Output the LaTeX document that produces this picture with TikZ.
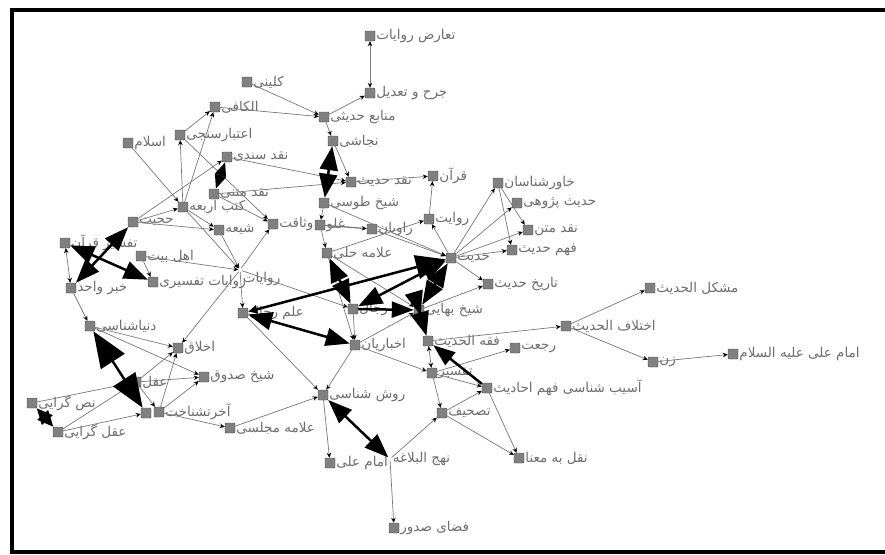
\documentclass[tikz,border=0pt]{standalone}
\usepackage{fontspec}
\newfontfamily\farsifont[Script=Arabic]{DejaVu Sans}
\TeXXeTstate=1
\usetikzlibrary{arrows.meta,positioning}
\definecolor{nodegray}{RGB}{128,128,128}
\definecolor{edgegray}{RGB}{120,120,120}
\definecolor{textgray}{RGB}{110,110,110}
\tikzstyle{concept} = [draw=black!70, fill=nodegray, minimum size=10pt, inner sep=0pt, rounded corners=1pt]
\tikzstyle{hiddenconcept} = [inner sep=0pt, minimum size=3pt]
\tikzstyle{lbl} = [text=textgray, font=\fontsize{13.5}{15}\farsifont, inner sep=1pt]
\tikzstyle{link} = [draw=edgegray, line width=0.7pt, -{Stealth[length=5pt,width=4.5pt,color=black]}]
\tikzstyle{both} = [link, {Stealth[length=5pt,width=4.5pt,color=black]}-{Stealth[length=5pt,width=4.5pt,color=black]}]
\tikzstyle{heavy} = [line width=2.5pt, black, {Triangle[length=24pt,width=18pt]}-{Triangle[length=24pt,width=18pt]}]
\tikzstyle{heavyone} = [line width=2.5pt, black, -{Triangle[length=22pt,width=16pt]}]

\begin{document}
\begin{tikzpicture}[x=1pt, y=-1pt]
\useasboundingbox (0,0) rectangle (885,554);
\fill[white] (0,0) rectangle (885,554);
\draw[line width=4pt] (11.5,10) rectangle (900,552);

% Hadith sources (top)
\node[concept, label={[lbl]0:\beginR تعارض روایات\endR}] (taarod) at (370,36) {};
\node[concept, label={[lbl]0:\beginR جرح و تعدیل\endR}] (jarh) at (370,93) {};
\node[concept, label={[lbl]0:\beginR منابع حدیثی\endR}] (manabe) at (324,117) {};
\node[concept, label={[lbl]0:\beginR نجاشی\endR}] (najashi) at (333,141) {};
\node[concept, label={[lbl]0:\beginR نقد حدیث\endR}] (naqdhadith) at (351,182) {};
\node[concept, label={[lbl]0:\beginR قرآن\endR}] (quran) at (433,176) {};
\node[concept, label={[lbl]0:\beginR شیخ طوسی\endR}] (tusi) at (324,203) {};
\node[concept, label={[lbl]0:\beginR غلو\endR}] (ghuluw) at (320,225) {};
\node[concept, label={[lbl]0:\beginR وثاقت\endR}] (vesaqat) at (273,224) {};
\node[concept, label={[lbl]0:\beginR راویان\endR}] (raviyan) at (372,229) {};
\node[concept, label={[lbl]0:\beginR روایت\endR}] (revayat) at (429,219) {};
\node[concept, label={[lbl]0:\beginR علامه حلی\endR}] (helli) at (327,253) {};
\node[concept, label={[lbl]0:\beginR کلینی\endR}] (kolayni) at (247,82) {};
\node[concept, label={[lbl]0:\beginR الکافی\endR}] (kafi) at (215,107) {};
\node[concept, label={[lbl]0:\beginR اعتبارسنجی\endR}] (etebar) at (180,135) {};
\node[concept, label={[lbl]0:\beginR اسلام\endR}] (eslam) at (128,143) {};
\node[concept, label={[lbl]0:\beginR نقد سندی\endR}] (naqdsanadi) at (227,157) {};
\node[concept, label={[lbl]0:\beginR نقد متنی\endR}] (naqdmatni) at (214,194) {};
\node[concept, label={[lbl]0:\beginR کتب اربعه\endR}] (kotob) at (183,207) {};
\node[concept, label={[lbl]0:\beginR شیعه\endR}] (shia) at (219,230) {};
\node[concept, label={[lbl]0:\beginR حجیت\endR}] (hojjiyat) at (133,222) {};

% Hadith cluster (right)
\node[concept, label={[lbl]0:\beginR حدیث\endR}] (hadith) at (451,258) {};
\node[concept, label={[lbl]0:\beginR خاورشناسان\endR}] (khavar) at (498,183) {};
\node[concept, label={[lbl]0:\beginR حدیث پژوهی\endR}] (pazhuhi) at (517,203) {};
\node[concept, label={[lbl]0:\beginR نقد متن\endR}] (naqdmatn) at (528,230) {};
\node[concept, label={[lbl]0:\beginR فهم حدیث\endR}] (fahm) at (512,250) {};
\node[concept, label={[lbl]0:\beginR تاریخ حدیث\endR}] (tarikh) at (488,284) {};
\node[concept, label={[lbl]0:\beginR شیخ بهایی\endR}] (bahai) at (419,310) {};
\node[concept, label={[lbl]0:\beginR فقه الحدیث\endR}] (fiqh) at (428,341) {};
\node[concept, label={[lbl]0:\beginR رجعت\endR}] (rajat) at (515,348) {};
\node[concept, label={[lbl]0:\beginR اختلاف الحدیث\endR}] (ekhtelaf) at (566,326) {};
\node[concept, label={[lbl]0:\beginR مشکل الحدیث\endR}] (moshkel) at (650,288) {};
\node[concept, label={[lbl]0:\beginR زن\endR}] (zan) at (653,362) {};
\node[concept, label={[lbl]0:\beginR امام علی علیه السلام\endR}] (imamali) at (733,354) {};
\node[concept, label={[lbl]0:\beginR تفسیر\endR}] (tafsir) at (432,373) {};
\node[concept, label={[lbl]0:\beginR آسیب شناسی فهم احادیث\endR}] (asib) at (487,388) {};
\node[concept, label={[lbl]0:\beginR تصحیف\endR}] (tashif) at (442,413) {};
\node[concept, label={[lbl]0:\beginR نقل به معنا\endR}] (naql) at (519,458) {};

% Rijal and method (middle)
\node[concept, label={[lbl]0:\beginR رجال\endR}] (rejal) at (353,309) {};
\node[concept, label={[lbl]0:\beginR اخباریان\endR}] (akhbari) at (355,345) {};
\node[concept, label={[lbl]0:\beginR علم رجال\endR}] (elmrejal) at (243,313) {};
\node[hiddenconcept, label={[lbl,yshift=-9pt]0:\beginR روایات\endR}] (revayaat) at (240,270) {};
\node[concept, label={[lbl]0:\beginR روش شناسی\endR}] (ravesh) at (323,395) {};
\node[concept, label={[lbl]0:\beginR علامه مجلسی\endR}] (majlesi) at (230,428) {};
\node[concept, label={[lbl]0:\beginR امام علی\endR}] (ali) at (330,463) {};
\node[hiddenconcept, label={[lbl]0:\beginR نهج البلاغه\endR}] (nahj) at (390,459) {};
\node[concept, label={[lbl]0:\beginR فضای صدور\endR}] (sodur) at (394,528) {};

% Left cluster
\node[concept, label={[lbl]0:\beginR روایات تفسیری\endR}] (tafsirev) at (153,282) {};
\node[concept, label={[lbl]0:\beginR اهل بیت\endR}] (ahlbeyt) at (141,256) {};
\node[concept, label={[lbl]0:\beginR تفسیر قرآن\endR}] (tafsirquran) at (65,243) {};
\node[concept, label={[lbl]0:\beginR خبر واحد\endR}] (khabar) at (71,288) {};
\node[concept, label={[lbl]0:\beginR دنیاشناسی\endR}] (donya) at (90,326) {};
\node[concept, label={[lbl]0:\beginR اخلاق\endR}] (akhlaq) at (178,348) {};
\node[concept, label={[lbl]0:\beginR شیخ صدوق\endR}] (saduq) at (204,377) {};
\node[concept, label={[lbl]0:\beginR عقل\endR}] (aql) at (136,382) {};
\node[concept] (akherat2) at (146,413) {};
\node[concept, label={[lbl]0:\beginR آخرتشناخت\endR}] (akherat) at (159,412) {};
\node[concept, label={[lbl]0:\beginR نص گرایی\endR}] (nass) at (32,403) {};
\node[concept, label={[lbl]0:\beginR عقل گرایی\endR}] (aqlgar) at (58,432) {};

% Thin links
\draw[both] (taarod) -- (jarh);
\draw[link] (manabe) -- (jarh);
\draw[link] (kolayni) -- (manabe);
\draw[link] (kafi) -- (manabe);
\draw[link] (manabe) -- (najashi);
\draw[link] (najashi) -- (naqdhadith);
\draw[link] (naqdsanadi) -- (naqdhadith);
\draw[link] (naqdmatni) -- (naqdhadith);
\draw[link] (naqdhadith) -- (quran);
\draw[link] (revayat) -- (quran);
\draw[link] (tusi) -- (hadith);
\draw[link, line width=1.3pt] (ghuluw) -- (raviyan);
\draw[link] (raviyan) -- (hadith);
\draw[link] (helli) -- (revayat);
\draw[link] (hadith) -- (revayat);
\draw[link] (hadith) -- (khavar);
\draw[link] (hadith) -- (pazhuhi);
\draw[link] (khavar) -- (naqdmatn);
\draw[link] (khavar) -- (fahm);
\draw[link] (hadith) -- (naqdmatn);
\draw[link] (hadith) -- (fahm);
\draw[link] (hadith) -- (tarikh);
\draw[link] (bahai) -- (tarikh);
\draw[link] (helli) -- (bahai);
\draw[link] (fiqh) -- (ekhtelaf);
\draw[link] (ekhtelaf) -- (moshkel);
\draw[link] (ekhtelaf) -- (zan);
\draw[link] (zan) -- (imamali);
\draw[both] (tafsir) -- (fiqh);
\draw[link] (akhbari) -- (tafsir);
\draw[link] (tafsir) -- (tashif);
\draw[link] (tafsir) -- (asib);
\draw[link] (tafsir) -- (rajat);
\draw[link] (tashif) -- (asib);
\draw[link] (tashif) -- (naql);
\draw[link] (asib) -- (naql);
\draw[link] (nahj) -- (tashif);
\draw[link] (nahj) -- (sodur);
\draw[link] (ravesh) -- (ali);
\draw[link] (akhbari) -- (ravesh);
\draw[link] (elmrejal) -- (ravesh);
\draw[link] (majlesi) -- (ravesh);
\draw[link] (rejal) -- (akhbari);
\draw[link] (helli) -- (akhbari);
\draw[link] (akhbari) -- (bahai);
\draw[link] (revayaat) -- (elmrejal);
\draw[link] (revayaat) -- (rejal);
\draw[link] (tusi) -- (ghuluw);
\draw[link] (ghuluw) -- (helli);
\draw[link] (kotob) -- (etebar);
\draw[link] (kotob) -- (kafi);
\draw[link] (etebar) -- (kafi);
\draw[link] (eslam) -- (kotob);
\draw[link] (etebar) -- (vesaqat);
\draw[link] (kotob) -- (shia);
\draw[link] (kotob) -- (revayaat);
\draw[link] (shia) -- (revayaat);
\draw[link] (revayaat) -- (vesaqat);
\draw[link] (naqdmatni) -- (vesaqat);
\draw[link] (hojjiyat) -- (shia);
\draw[link] (hojjiyat) -- (kotob);
\draw[link] (hojjiyat) -- (naqdsanadi);
\draw[link] (ahlbeyt) -- (tafsirev);
\draw[link] (ahlbeyt) -- (revayaat);
\draw[both] (tafsirquran) -- (khabar);
\draw[link] (khabar) -- (donya);
\draw[link] (donya) -- (akhlaq);
\draw[link] (donya) -- (saduq);
\draw[link] (revayaat) -- (akhlaq);
\draw[link] (aql) -- (akhlaq);
\draw[link] (akherat) -- (akhlaq);
\draw[link] (aql) -- (saduq);
\draw[link] (akherat) -- (saduq);
\draw[link] (nass) -- (aql);
\draw[link] (aqlgar) -- (aql);
\draw[link] (aqlgar) -- (akherat2);
\draw[link] (aql) -- (akherat);
\draw[link] (akherat) -- (majlesi);

% Heavy links
\draw[heavy] (najashi) -- (tusi);
\draw[heavy, {Triangle[length=14pt,width=11pt]}-{Triangle[length=14pt,width=11pt]}] (naqdsanadi) -- (naqdmatni);
\draw[heavy] (helli) -- (rejal);
\draw[heavy] (elmrejal) -- (akhbari);
\draw[heavy] (ravesh) -- (nahj);
\draw[heavy, {Triangle[length=9pt,width=8pt]}-{Triangle[length=30pt,width=24pt]}] (elmrejal) -- (hadith);
\draw[heavy] (rejal) -- (hadith);
\draw[heavyone] (rejal) -- (bahai);
\draw[heavy] (bahai) -- (hadith);
\draw[heavy] (bahai) -- (fiqh);
\draw[heavyone] (asib) -- (fiqh);
\draw[heavy, {Triangle[length=36pt,width=28pt]}-{Triangle[length=34pt,width=26pt]}] (donya) -- (akherat2);
\draw[heavy, {Triangle[length=16pt,width=14pt]}-{Triangle[length=16pt,width=14pt]}] (nass) -- (aqlgar);
\draw[heavy] (tafsirquran) -- (tafsirev);
\draw[heavy] (khabar) -- (hojjiyat);
\end{tikzpicture}
\end{document}
